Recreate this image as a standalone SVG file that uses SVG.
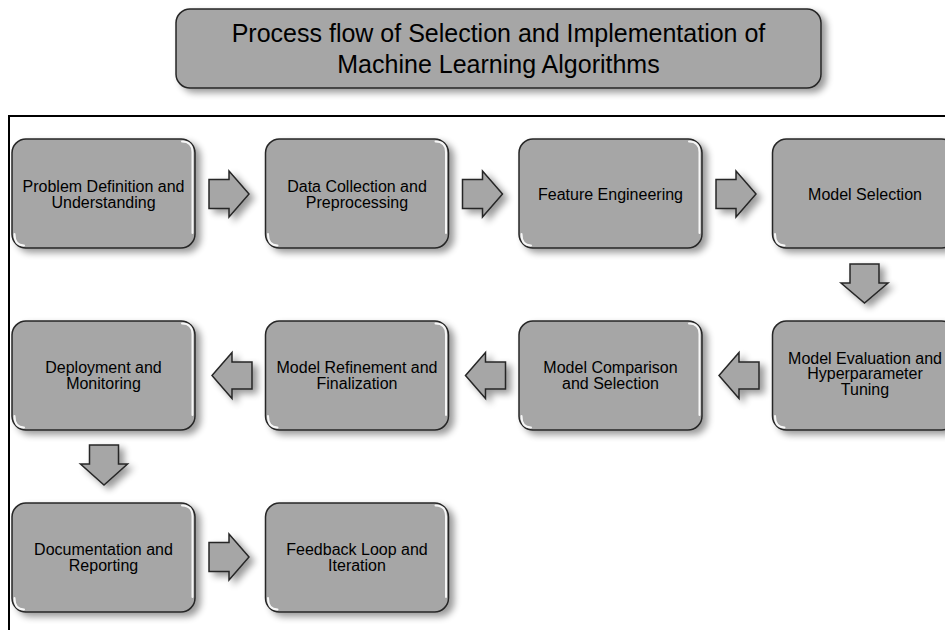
<svg xmlns="http://www.w3.org/2000/svg" width="945" height="630" viewBox="0 0 945 630">
  <defs>
    <filter id="shadow" x="-20%" y="-20%" width="150%" height="150%">
      <feGaussianBlur in="SourceAlpha" stdDeviation="3.5"/>
      <feOffset dx="5" dy="4" result="b"/>
      <feComponentTransfer><feFuncA type="linear" slope="0.4"/></feComponentTransfer>
      <feMerge><feMergeNode/><feMergeNode in="SourceGraphic"/></feMerge>
    </filter>
    <style>
      .box { fill: #a6a6a6; stroke: #262626; stroke-width: 1.5; filter: url(#shadow); }
      .hl { fill: none; stroke: #ffffff; stroke-width: 2; stroke-linecap: round; opacity: 0.9; }
      .arrow { fill: #a6a6a6; stroke: #262626; stroke-width: 1.5; stroke-linejoin: miter; filter: url(#shadow); }
      .t { font-family: "Liberation Sans", Arial, sans-serif; font-size: 16px; fill: #000; text-anchor: middle; }
      .title { font-family: "Liberation Sans", Arial, sans-serif; font-size: 25px; fill: #000; text-anchor: middle; }
    </style>
  </defs>
  <rect width="945" height="630" fill="#ffffff"/>

  <g id="title">
    <rect class="box" x="176" y="9" width="645" height="79" rx="14"/>
    <text class="title" x="498.5" y="42">Process flow of Selection and Implementation of</text>
    <text class="title" x="498.5" y="73">Machine Learning Algorithms</text>
  </g>

  <path id="frame" d="M9 630 V116 H945" fill="none" stroke="#000" stroke-width="2"/>

  <g id="connectors">
    <polygon class="arrow" points="209,179.5 229,179.5 229,171 249,194 229,217 229,208.5 209,208.5"/>
    <polygon class="arrow" points="462.5,179.5 482.5,179.5 482.5,171 502.5,194 482.5,217 482.5,208.5 462.5,208.5"/>
    <polygon class="arrow" points="716,179.5 736,179.5 736,171 756,194 736,217 736,208.5 716,208.5"/>
    <polygon class="arrow" points="850,264 879,264 879,283 888,283 864.5,303 841,283 850,283"/>
    <polygon class="arrow" points="719,375.5 739,352.5 739,362 759,362 759,389 739,389 739,398.5"/>
    <polygon class="arrow" points="465.5,375.5 485.5,352.5 485.5,362 505.5,362 505.5,389 485.5,389 485.5,398.5"/>
    <polygon class="arrow" points="212,375.5 232,352.5 232,362 252,362 252,389 232,389 232,398.5"/>
    <polygon class="arrow" points="89.5,445 118.5,445 118.5,464 127.5,464 104,485 80.5,464 89.5,464"/>
    <polygon class="arrow" points="209,542.5 229,542.5 229,534 249,557 229,580 229,571.5 209,571.5"/>
  </g>

  <g id="n1">
    <rect class="box" x="12" y="139" width="183" height="109" rx="14"/>
    <path class="hl" d="M182 141.5 Q192.5 141.5 192.5 152 V233"/>
    <path class="hl" d="M14.5 234 Q14.5 245.5 24 245.5"/>
    <text class="t" x="103.5" y="192">Problem Definition and</text>
    <text class="t" x="103.5" y="208">Understanding</text>
  </g>
  <g id="n2">
    <rect class="box" x="265.5" y="139" width="183" height="109" rx="14"/>
    <path class="hl" d="M435.5 141.5 Q446 141.5 446 152 V233"/>
    <path class="hl" d="M268 234 Q268 245.5 277.5 245.5"/>
    <text class="t" x="357" y="192">Data Collection and</text>
    <text class="t" x="357" y="208">Preprocessing</text>
  </g>
  <g id="n3">
    <rect class="box" x="519" y="139" width="183" height="109" rx="14"/>
    <path class="hl" d="M689 141.5 Q699.5 141.5 699.5 152 V233"/>
    <path class="hl" d="M521.5 234 Q521.5 245.5 531 245.5"/>
    <text class="t" x="610.5" y="199.5">Feature Engineering</text>
  </g>
  <g id="n4">
    <rect class="box" x="772.5" y="139" width="183" height="109" rx="14"/>
    <path class="hl" d="M775 234 Q775 245.5 784.5 245.5"/>
    <text class="t" x="865" y="199.5">Model Selection</text>
  </g>

  <g id="n5">
    <rect class="box" x="772.5" y="321" width="183" height="109" rx="14"/>
    <path class="hl" d="M775 416 Q775 427.5 784.5 427.5"/>
    <text class="t" x="865" y="363.5">Model Evaluation and</text>
    <text class="t" x="865" y="379">Hyperparameter</text>
    <text class="t" x="865" y="394.5">Tuning</text>
  </g>
  <g id="n6">
    <rect class="box" x="519" y="321" width="183" height="109" rx="14"/>
    <path class="hl" d="M689 323.5 Q699.5 323.5 699.5 334 V415"/>
    <path class="hl" d="M521.5 416 Q521.5 427.5 531 427.5"/>
    <text class="t" x="610.5" y="373">Model Comparison</text>
    <text class="t" x="610.5" y="389">and Selection</text>
  </g>
  <g id="n7">
    <rect class="box" x="265.5" y="321" width="183" height="109" rx="14"/>
    <path class="hl" d="M435.5 323.5 Q446 323.5 446 334 V415"/>
    <path class="hl" d="M268 416 Q268 427.5 277.5 427.5"/>
    <text class="t" x="357" y="373">Model Refinement and</text>
    <text class="t" x="357" y="389">Finalization</text>
  </g>
  <g id="n8">
    <rect class="box" x="12" y="321" width="183" height="109" rx="14"/>
    <path class="hl" d="M182 323.5 Q192.5 323.5 192.5 334 V415"/>
    <path class="hl" d="M14.5 416 Q14.5 427.5 24 427.5"/>
    <text class="t" x="103.5" y="373">Deployment and</text>
    <text class="t" x="103.5" y="389">Monitoring</text>
  </g>

  <g id="n9">
    <rect class="box" x="12" y="503" width="183" height="109" rx="14"/>
    <path class="hl" d="M182 505.5 Q192.5 505.5 192.5 516 V597"/>
    <path class="hl" d="M14.5 598 Q14.5 609.5 24 609.5"/>
    <text class="t" x="103.5" y="555">Documentation and</text>
    <text class="t" x="103.5" y="571">Reporting</text>
  </g>
  <g id="n10">
    <rect class="box" x="265.5" y="503" width="183" height="109" rx="14"/>
    <path class="hl" d="M435.5 505.5 Q446 505.5 446 516 V597"/>
    <path class="hl" d="M268 598 Q268 609.5 277.5 609.5"/>
    <text class="t" x="357" y="555">Feedback Loop and</text>
    <text class="t" x="357" y="571">Iteration</text>
  </g>
</svg>
